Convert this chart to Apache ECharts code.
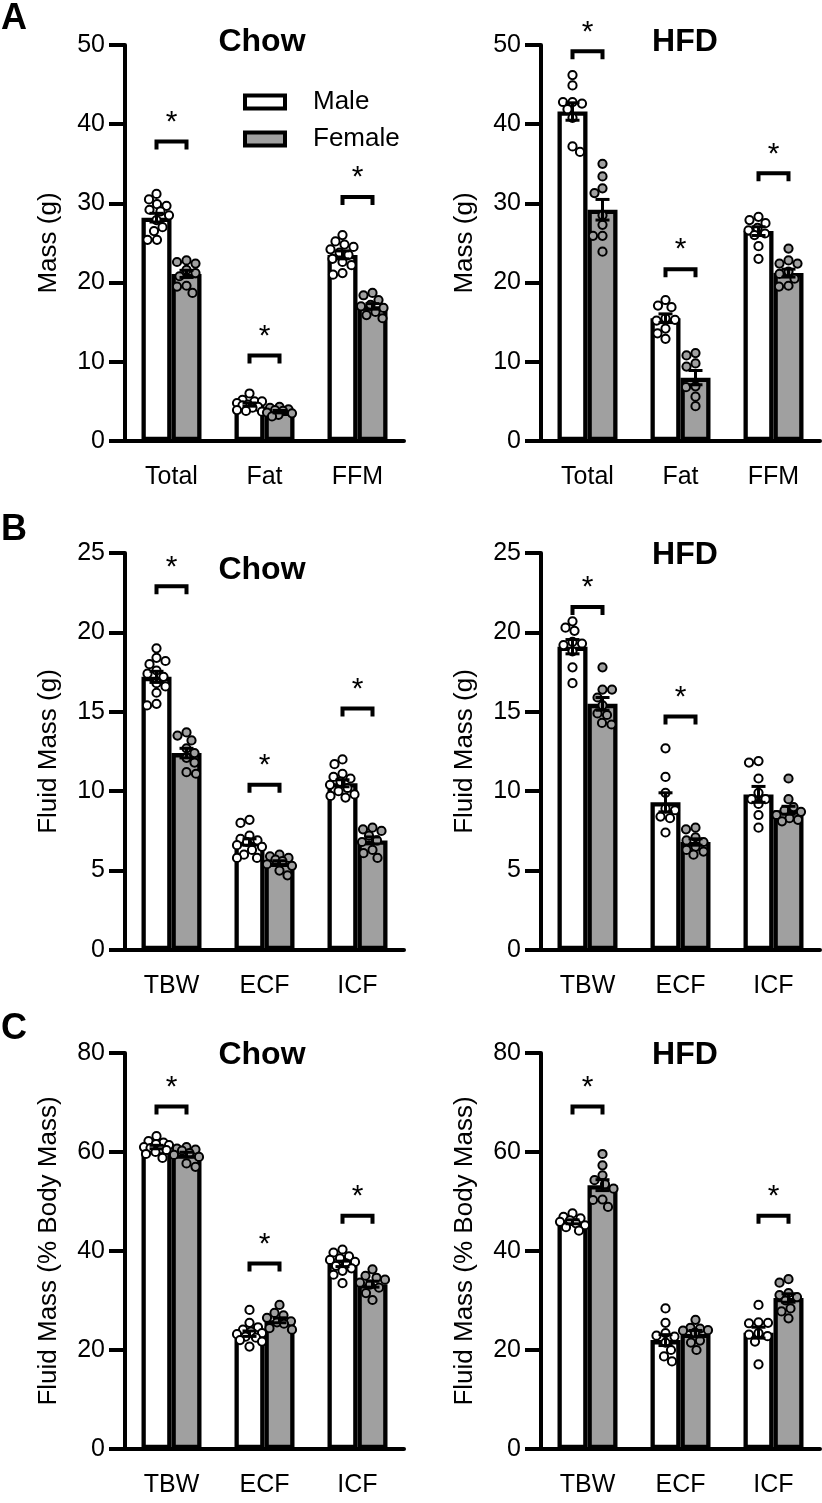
<!DOCTYPE html>
<html>
<head>
<meta charset="utf-8">
<script src="https://cdn.jsdelivr.net/npm/echarts@6/dist/echarts.min.js"></script>
<style>
html,body{margin:0;padding:0;background:#fff;}
#chart{width:822px;height:1503px;}
</style>
</head>
<body>
<div id="chart"></div>
<script>
// ================= DATA =================
const massCategories = ['Total', 'Fat', 'FFM'];
const fluidCategories = ['TBW', 'ECF', 'ICF'];
const massTicks = [0, 10, 20, 30, 40, 50];
const fluidTicks = [0, 5, 10, 15, 20, 25];
const pctTicks = [0, 20, 40, 60, 80];
const sexNames = ['Male', 'Female'];
const dietTitles = ['Chow', 'HFD'];
const panelLetters = ['A', 'B', 'C'];
const yAxisNames = ['Mass (g)', 'Fluid Mass (g)', 'Fluid Mass (% Body Mass)'];

// --- A: Chow, body composition ---
const chowMassMaleMean = [28.2, 4.6, 23.5];
const chowMassMaleSem = [0.55, 0.2, 0.5];
const chowMassFemaleMean = [21.1, 3.7, 17.0];
const chowMassFemaleSem = [0.45, 0.15, 0.35];
const chowMassMaleDots = [
  [31.2, 30.5, 29.9, 29.7, 29.2, 29.0, 28.5, 27.9, 27.0, 26.5, 25.4, 25.4],
  [6.0, 5.2, 5.0, 5.0, 4.8, 4.6, 4.5, 4.3, 4.2, 3.9, 3.8, 3.7],
  [26.0, 25.2, 24.8, 24.5, 24.2, 23.8, 23.5, 23.0, 22.6, 22.2, 21.2, 21.0]
];
const chowMassFemaleDots = [
  [22.8, 22.6, 22.4, 21.6, 21.2, 20.8, 19.6, 19.5, 18.7],
  [4.3, 4.2, 4.0, 3.9, 3.8, 3.6, 3.5, 3.3, 3.1],
  [18.7, 18.4, 17.8, 17.2, 17.0, 16.8, 16.3, 15.9, 15.5]
];
const chowMassSig = [37.8, 10.8, 30.8];

// --- A: HFD, body composition ---
const hfdMassMaleMean = [41.6, 15.5, 26.5];
const hfdMassMaleSem = [1.1, 0.55, 0.55];
const hfdMassFemaleMean = [29.2, 8.0, 21.2];
const hfdMassFemaleSem = [1.3, 0.9, 0.5];
const hfdMassMaleDots = [
  [46.2, 44.9, 42.8, 42.8, 42.6, 41.9, 40.8, 37.2, 36.5],
  [17.8, 17.1, 16.9, 15.5, 15.3, 15.2, 14.2, 13.6, 12.9],
  [28.3, 27.9, 27.5, 26.9, 26.6, 26.2, 26.0, 24.6, 23.0]
];
const hfdMassFemaleDots = [
  [35.0, 33.4, 31.9, 31.3, 28.5, 27.3, 25.9, 25.9, 23.9],
  [11.1, 10.8, 9.8, 9.4, 6.9, 6.8, 5.6, 4.4],
  [24.3, 22.8, 22.4, 22.4, 21.4, 21.1, 20.5, 19.6, 19.5]
];
const hfdMassSig = [49.2, 21.7, 33.8];

// --- B: Chow, fluid mass ---
const chowFluidMaleMean = [17.2, 6.8, 10.5];
const chowFluidMaleSem = [0.35, 0.2, 0.22];
const chowFluidFemaleMean = [12.4, 5.5, 6.9];
const chowFluidFemaleSem = [0.3, 0.12, 0.22];
const chowFluidMaleDots = [
  [19.0, 18.4, 18.2, 18.0, 17.6, 17.4, 17.2, 16.8, 16.6, 16.2, 15.5, 15.4],
  [8.2, 8.0, 7.2, 7.0, 6.9, 6.8, 6.6, 6.5, 6.3, 6.0, 5.8, 5.8],
  [12.0, 11.7, 11.1, 10.9, 10.8, 10.6, 10.4, 10.2, 10.0, 9.8, 9.7, 9.6]
];
const chowFluidFemaleDots = [
  [13.7, 13.5, 13.2, 12.7, 12.4, 12.1, 11.8, 11.2, 11.1],
  [6.0, 5.9, 5.8, 5.7, 5.6, 5.4, 5.3, 5.0, 4.7],
  [7.7, 7.6, 7.5, 7.2, 6.9, 6.8, 6.3, 6.1, 5.8]
];
const chowFluidSig = [22.9, 10.4, 15.2];

// --- B: HFD, fluid mass ---
const hfdFluidMaleMean = [19.1, 9.3, 9.8];
const hfdFluidMaleSem = [0.45, 0.6, 0.5];
const hfdFluidFemaleMean = [15.5, 6.8, 8.8];
const hfdFluidFemaleSem = [0.4, 0.2, 0.25];
const hfdFluidMaleDots = [
  [20.7, 20.3, 20.1, 19.4, 19.3, 19.2, 18.8, 17.8, 16.8],
  [12.7, 10.9, 9.9, 8.9, 8.8, 8.4, 8.3, 7.4],
  [11.9, 11.8, 10.8, 9.9, 9.5, 9.5, 9.2, 8.5, 7.7]
];
const hfdFluidFemaleDots = [
  [17.8, 16.4, 16.4, 15.9, 15.4, 14.9, 14.8, 14.3, 14.2],
  [7.7, 7.6, 7.1, 6.9, 6.8, 6.5, 6.3, 6.2, 6.0],
  [10.8, 9.5, 9.0, 8.8, 8.7, 8.5, 8.3, 8.2, 8.1]
];
const hfdFluidSig = [21.6, 14.7, null];

// --- C: Chow, fluid % body mass ---
const chowPctMaleMean = [61.0, 23.3, 37.4];
const chowPctMaleSem = [0.35, 0.55, 0.55];
const chowPctFemaleMean = [59.5, 26.0, 33.3];
const chowPctFemaleSem = [0.45, 0.5, 0.6];
const chowPctMaleDots = [
  [63.2, 62.2, 61.9, 61.6, 61.4, 61.0, 60.8, 60.6, 60.4, 60.0, 59.6, 58.8],
  [28.1, 25.5, 24.6, 24.1, 23.7, 23.4, 23.2, 22.7, 22.5, 22.0, 21.7, 20.7],
  [40.3, 39.7, 38.9, 38.5, 38.2, 37.8, 37.5, 37.0, 36.5, 36.0, 35.2, 33.5]
];
const chowPctFemaleDots = [
  [61.0, 60.7, 60.5, 60.3, 59.8, 59.4, 59.0, 57.7, 57.0],
  [29.1, 27.5, 27.0, 26.5, 25.8, 25.6, 25.3, 24.4, 24.1],
  [36.3, 35.0, 34.6, 34.2, 33.6, 33.2, 32.6, 31.5, 30.1]
];
const chowPctSig = [69.2, 37.5, 47.1];

// --- C: HFD, fluid % body mass ---
const hfdPctMaleMean = [45.9, 22.0, 23.5];
const hfdPctMaleSem = [0.4, 1.1, 1.1];
const hfdPctFemaleMean = [53.3, 23.3, 30.5];
const hfdPctFemaleSem = [1.1, 0.65, 0.85];
const hfdPctMaleDots = [
  [47.6, 46.9, 46.6, 46.2, 45.9, 45.6, 45.2, 44.8, 44.1],
  [28.4, 25.5, 23.4, 22.9, 22.7, 21.5, 20.0, 18.7, 17.7],
  [29.1, 25.6, 25.5, 25.4, 23.4, 23.1, 22.8, 21.7, 17.1]
];
const hfdPctFemaleDots = [
  [59.6, 57.3, 55.3, 54.3, 53.5, 52.6, 50.4, 50.3, 48.9],
  [26.1, 24.5, 24.3, 24.0, 23.9, 23.5, 21.9, 21.5, 20.0],
  [34.3, 33.6, 31.5, 31.1, 30.7, 30.0, 28.4, 27.8, 26.4]
];
const hfdPctSig = [69.2, null, 47.1];

// ================= PANEL ASSEMBLY =================
const panels = [
  { row: 0, col: 0, cats: massCategories, ticks: massTicks, mM: chowMassMaleMean, mS: chowMassMaleSem, fM: chowMassFemaleMean, fS: chowMassFemaleSem, mD: chowMassMaleDots, fD: chowMassFemaleDots, sig: chowMassSig },
  { row: 0, col: 1, cats: massCategories, ticks: massTicks, mM: hfdMassMaleMean, mS: hfdMassMaleSem, fM: hfdMassFemaleMean, fS: hfdMassFemaleSem, mD: hfdMassMaleDots, fD: hfdMassFemaleDots, sig: hfdMassSig },
  { row: 1, col: 0, cats: fluidCategories, ticks: fluidTicks, mM: chowFluidMaleMean, mS: chowFluidMaleSem, fM: chowFluidFemaleMean, fS: chowFluidFemaleSem, mD: chowFluidMaleDots, fD: chowFluidFemaleDots, sig: chowFluidSig },
  { row: 1, col: 1, cats: fluidCategories, ticks: fluidTicks, mM: hfdFluidMaleMean, mS: hfdFluidMaleSem, fM: hfdFluidFemaleMean, fS: hfdFluidFemaleSem, mD: hfdFluidMaleDots, fD: hfdFluidFemaleDots, sig: hfdFluidSig },
  { row: 2, col: 0, cats: fluidCategories, ticks: pctTicks, mM: chowPctMaleMean, mS: chowPctMaleSem, fM: chowPctFemaleMean, fS: chowPctFemaleSem, mD: chowPctMaleDots, fD: chowPctFemaleDots, sig: chowPctSig },
  { row: 2, col: 1, cats: fluidCategories, ticks: pctTicks, mM: hfdPctMaleMean, mS: hfdPctMaleSem, fM: hfdPctFemaleMean, fS: hfdPctFemaleSem, mD: hfdPctMaleDots, fD: hfdPctFemaleDots, sig: hfdPctSig }
];

// ================= LAYOUT & STYLE =================
const FONT = '"Liberation Sans", Arial, Helvetica, sans-serif';
const GREY = '#a0a0a0';
const BAR_W = 30, BAR_BORDER = 4.3;
const HALF_OFF = BAR_W / 2;
const CAP = 7, SIG_HALF = 15, LEG = 8, STAR_DY = 19;
const DOT_R = 4.1, DOT_LW = 2, DOT_MIN_D = 9.2, DOT_MAX_OFF = 12.5;
const colLeft = [125, 541];
const rowTop = [45, 553, 1053];
const rowHeight = [396, 397, 396];
const GRID_W = 279;
const titlePos = [[[262, 42], [685, 42]], [[262, 570], [685, 555]], [[262, 1055], [685, 1055]]];
const letterPos = [[14, 19], [14, 530], [14, 1029]];

function swarm(ys) {
  const n = ys.length;
  const order = ys.map((y, i) => i).sort((a, b) => ys[a] - ys[b]);
  const placed = [];
  const off = new Array(n).fill(0);
  order.forEach((i, rank) => {
    let best = null;
    const pref = rank % 2 === 0 ? 1 : -1;
    for (let s = 0; s <= DOT_MAX_OFF && best === null; s += 0.5) {
      const cands = s === 0 ? [0] : [pref * s, -pref * s];
      for (const c of cands) {
        if (placed.every(p => Math.hypot(p.x - c, p.y - ys[i]) >= DOT_MIN_D)) { best = c; break; }
      }
    }
    if (best === null) {
      let bestScore = -1;
      for (let c = -DOT_MAX_OFF; c <= DOT_MAX_OFF; c += 0.5) {
        const sc = Math.min.apply(null, placed.map(p => Math.hypot(p.x - c, p.y - ys[i])));
        if (sc > bestScore) { bestScore = sc; best = c; }
      }
    }
    off[i] = best;
    placed.push({ x: best, y: ys[i] });
  });
  return off;
}

function makeDotRenderer(p) {
  return function (params, api) {
    const cat = api.value(0), v = api.value(1), sex = api.value(2), k = api.value(3);
    const group = (sex ? p.fD : p.mD)[cat];
    const ys = group.map(g => api.coord([cat, g])[1]);
    const offs = swarm(ys);
    const c = api.coord([cat, v]);
    return {
      type: 'circle',
      shape: { cx: c[0] + (sex ? 1 : -1) * HALF_OFF + offs[k], cy: c[1], r: DOT_R },
      style: { fill: sex ? GREY : '#fff', stroke: '#000', lineWidth: DOT_LW }
    };
  };
}

function renderErr(params, api) {
  const cat = api.value(0), m = api.value(1), s = api.value(2), sex = api.value(3);
  const x = api.coord([cat, m])[0] + (sex ? 1 : -1) * HALF_OFF;
  const yT = api.coord([cat, m + s])[1], yB = api.coord([cat, m - s])[1];
  const st = { stroke: '#000', lineWidth: 3 };
  return {
    type: 'group', children: [
      { type: 'line', shape: { x1: x, y1: yT, x2: x, y2: yB }, style: st },
      { type: 'line', shape: { x1: x - CAP, y1: yT, x2: x + CAP, y2: yT }, style: st },
      { type: 'line', shape: { x1: x - CAP, y1: yB, x2: x + CAP, y2: yB }, style: st }
    ]
  };
}

function renderSig(params, api) {
  const cat = api.value(0), lvl = api.value(1);
  const c = api.coord([cat, lvl]);
  const x0 = c[0] - SIG_HALF, x1 = c[0] + SIG_HALF, y = c[1];
  return {
    type: 'group', children: [
      { type: 'polyline', shape: { points: [[x0, y + LEG], [x0, y], [x1, y], [x1, y + LEG]] },
        style: { stroke: '#000', lineWidth: 4, fill: null, lineJoin: 'miter', lineCap: 'butt' } },
      { type: 'text', x: c[0], y: y - STAR_DY,
        style: { text: '*', fontSize: 30, fontFamily: FONT, fill: '#000', align: 'center', verticalAlign: 'middle' } }
    ]
  };
}

const grid = [], xAxis = [], yAxis = [], series = [], title = [];

panels.forEach((p, i) => {
  grid.push({ left: colLeft[p.col], top: rowTop[p.row], width: GRID_W, height: rowHeight[p.row], outerBoundsMode: 'none', containLabel: false });
  xAxis.push({
    type: 'category', gridIndex: i, data: p.cats,
    axisLine: { show: true, onZero: false, lineStyle: { color: '#000', width: 4 } },
    axisTick: { show: false },
    axisLabel: { fontSize: 25, color: '#000', fontFamily: FONT, margin: 24, interval: 0 },
    splitLine: { show: false }
  });
  yAxis.push({
    type: 'value', gridIndex: i,
    min: p.ticks[0], max: p.ticks[p.ticks.length - 1], interval: p.ticks[1] - p.ticks[0],
    name: yAxisNames[p.row], nameLocation: 'middle', nameGap: 63, nameMoveOverlap: false,
    nameTextStyle: { fontSize: 26, color: '#000', fontFamily: FONT },
    axisLine: { show: true, lineStyle: { color: '#000', width: 4 } },
    axisTick: { show: true, inside: false, length: 16, lineStyle: { color: '#000', width: 4 } },
    axisLabel: { fontSize: 25, color: '#000', fontFamily: FONT, margin: 20, hideOverlap: false },
    splitLine: { show: false }
  });
  const barBase = { type: 'bar', xAxisIndex: i, yAxisIndex: i, barWidth: BAR_W, barGap: '0%', z: 2, emphasis: { disabled: true } };
  series.push(Object.assign({}, barBase, { name: sexNames[0], data: p.mM, itemStyle: { color: '#fff', borderColor: '#000', borderWidth: BAR_BORDER } }));
  series.push(Object.assign({}, barBase, { name: sexNames[1], data: p.fM, itemStyle: { color: GREY, borderColor: '#000', borderWidth: BAR_BORDER } }));

  const dotData = [];
  p.mD.forEach((arr, cat) => arr.forEach((v, k) => dotData.push([cat, v, 0, k])));
  p.fD.forEach((arr, cat) => arr.forEach((v, k) => dotData.push([cat, v, 1, k])));
  series.push({ type: 'custom', name: 'dots', xAxisIndex: i, yAxisIndex: i, z: 3, clip: false,
    encode: { x: 0, y: 1 }, renderItem: makeDotRenderer(p), data: dotData, silent: true });

  const errData = [];
  p.mM.forEach((m, cat) => errData.push([cat, m, p.mS[cat], 0]));
  p.fM.forEach((m, cat) => errData.push([cat, m, p.fS[cat], 1]));
  series.push({ type: 'custom', name: 'sem', xAxisIndex: i, yAxisIndex: i, z: 4, clip: false,
    encode: { x: 0, y: 1 }, renderItem: renderErr, data: errData, silent: true });

  const sigData = [];
  p.sig.forEach((lvl, cat) => { if (lvl != null) sigData.push([cat, lvl]); });
  series.push({ type: 'custom', name: 'sig', xAxisIndex: i, yAxisIndex: i, z: 4, clip: false,
    encode: { x: 0, y: 1 }, renderItem: renderSig, data: sigData, silent: true });

  const tp = titlePos[p.row][p.col];
  title.push({ text: dietTitles[p.col], left: tp[0], top: tp[1], padding: 0, textAlign: 'center', textVerticalAlign: 'middle',
    textStyle: { fontSize: 32, fontWeight: 'bold', color: '#000', fontFamily: FONT } });
});

panelLetters.forEach((L, r) => {
  title.push({ text: L, left: letterPos[r][0], top: letterPos[r][1], padding: 0, textAlign: 'center', textVerticalAlign: 'middle',
    textStyle: { fontSize: 36, fontWeight: 'bold', color: '#000', fontFamily: FONT } });
});

const chart = echarts.init(document.getElementById('chart'), null, { renderer: 'canvas' });
chart.setOption({
  animation: false,
  backgroundColor: '#fff',
  title: title,
  legend: {
    data: sexNames, orient: 'vertical', left: 243, top: 89, padding: 0,
    itemWidth: 40, itemHeight: 13, itemGap: 11, icon: 'rect', selectedMode: false,
    itemStyle: { borderColor: '#000', borderWidth: 4 },
    textStyle: { fontSize: 26, color: '#000', fontFamily: FONT, padding: [0, 0, 0, 23] }
  },
  grid: grid, xAxis: xAxis, yAxis: yAxis, series: series
});
</script>
</body>
</html>
